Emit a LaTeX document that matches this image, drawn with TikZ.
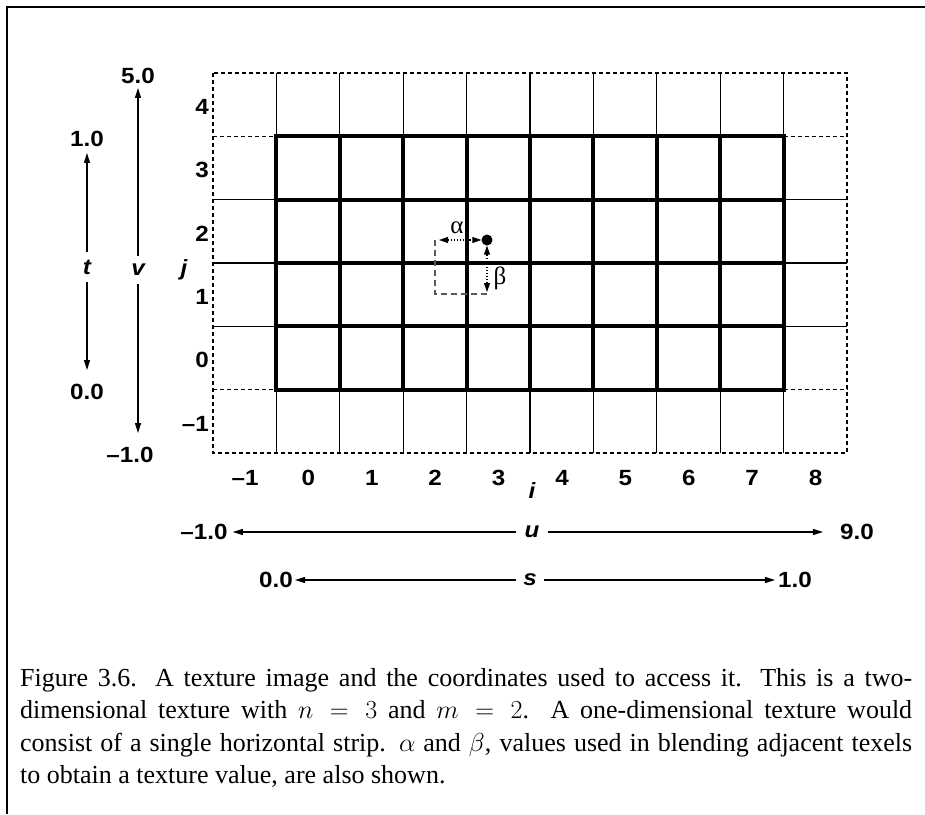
\documentclass[tikz,border=0pt]{standalone}
\usepackage{fix-cm}
\usepackage[no-math]{fontspec}
\setmainfont{Liberation Serif}
\newfontfamily\labfam[FakeStretch=1.1]{Liberation Sans}
\usetikzlibrary{arrows.meta}
\newcommand\labfont{\labfam\bfseries\fontsize{22}{24}\selectfont}
\newcommand\capfont{\fontsize{26}{32.5}\selectfont}
\newcommand\grkfont{\fontsize{25}{27}\selectfont}
\tikzset{
  frameline/.style={line width=1.3pt},
  thickgrid/.style={line width=4pt, line cap=rect},
  thingrid/.style={line width=1.2pt},
  dashgrid/.style={line width=1.5pt, dash pattern=on 4pt off 3pt},
  lab/.style={font=\labfont, inner sep=0pt},
  var/.style={font=\labfont\itshape, inner sep=8pt},
  arr/.style={-{Triangle[length=10pt,width=6pt]}, line width=1.1pt},
  dblarr/.style={{Triangle[length=9pt,width=6pt]}-{Triangle[length=9pt,width=6pt]}, line width=1.1pt, dotted},
  gdash/.style={line width=1.2pt, draw=black!65, dash pattern=on 6pt off 4pt},
  grk/.style={font=\grkfont, inner sep=0pt},
}
\begin{document}
\begin{tikzpicture}[x=1pt,y=-1pt]
\useasboundingbox (0,0) rectangle (925,814);
% frame
\draw[frameline] (7,814) -- (7,7) -- (925,7);
% thin margin lines
\foreach \k in {1,...,9} {
  \draw[thingrid] ({213+63.4*\k},73) -- ({213+63.4*\k},136.33);
  \draw[thingrid] ({213+63.4*\k},389.67) -- ({213+63.4*\k},453);
}
\foreach \r in {2,3,4} {
  \draw[thingrid] (213,{73+63.333*\r}) -- (276.4,{73+63.333*\r});
  \draw[thingrid] (783.6,{73+63.333*\r}) -- (847,{73+63.333*\r});
}
\foreach \r in {1,5} {
  \draw[dashgrid] (213,{73+63.333*\r}) -- (276.4,{73+63.333*\r});
  \draw[dashgrid] (783.6,{73+63.333*\r}) -- (847,{73+63.333*\r});
}
\draw[dashgrid] (213,73) rectangle (847,453);
% thick inner grid
\foreach \k in {1,...,9}
  \draw[thickgrid] ({213+63.4*\k},136.33) -- ({213+63.4*\k},389.67);
\foreach \r in {1,...,5}
  \draw[thickgrid] (276.4,{73+63.333*\r}) -- (783.6,{73+63.333*\r});
% column labels
\foreach \k/\t in {0/{–1},1/0,2/1,3/2,4/3,5/4,6/5,7/6,8/7,9/8}
  \node[lab] (col\k) at ({245+63.4*\k},478) {\t};
\node[lab, font=\labfont\itshape] (ilab) at (532,491) {i};
% row labels
\foreach \r/\t in {0/4,1/3,2/2,3/1,4/0,5/{–1}}
  \node[lab, anchor=east] (row\r) at (209,{107+63.333*\r}) {\t};
\node[lab, font=\labfont\itshape] (jlab) at (184,270) {j};
% t arrow
\node[var] (t) at (87,267) {t};
\node[lab] (t1) at (87,139) {1.0};
\node[lab] (t0) at (87,392) {0.0};
\draw[arr, shorten >=6pt] (t) -- (t1);
\draw[arr, shorten >=14pt] (t) -- (t0);
% v arrow
\node[var] (v) at (138,270) {v};
\node[lab] (v5) at (138,76) {5.0};
\node[lab] (vm) at (130,455) {–1.0};
\draw[arr, shorten >=4pt] (v) -- (v5);
\draw[arr, shorten >=14pt] (v) -- (v |- vm.north);
% u arrow
\node[var] (u) at (532,532) {u};
\node[lab] (um) at (204,532) {–1.0};
\node[lab] (u9) at (857,532) {9.0};
\draw[arr, shorten >=5pt] (u) -- (um);
\draw[arr, shorten >=17pt] (u) -- (u9);
% s arrow
\node[var, inner sep=7pt] (s) at (530,580) {s};
\node[lab] (s0) at (276,580) {0.0};
\node[lab] (s1) at (795,580) {1.0};
\draw[arr, shorten >=2pt] (s) -- (s0);
\draw[arr, shorten >=3pt] (s) -- (s1);
% alpha / beta
\coordinate (A) at (435,240);
\coordinate (B) at (435,294);
\coordinate (Cc) at (487,294);
\node[circle, fill=black, inner sep=0pt, minimum size=11pt] (P) at (487,240) {};
\draw[gdash] (A) -- (B) -- (Cc);
\draw[dblarr, shorten <=4pt] (A) -- (P);
\draw[dblarr, shorten >=2pt] (P) -- (Cc);
\node[grk] (al) at (457,228) {α};
\node[grk] (be) at (500,278) {β};
% caption
\node[anchor=north west, text width=892pt, align=justify, inner sep=0pt, font=\capfont] (cap) at (20,668)
{Figure 3.6. A texture image and the coordinates used to access it. This is a two-\linebreak dimensional texture with $n = 3$ and $m = 2$. A one-dimensional texture would\linebreak consist of a single horizontal strip. $\alpha$ and $\beta$, values used in blending adjacent texels\linebreak to obtain a texture value, are also shown.};
\end{tikzpicture}
\end{document}
